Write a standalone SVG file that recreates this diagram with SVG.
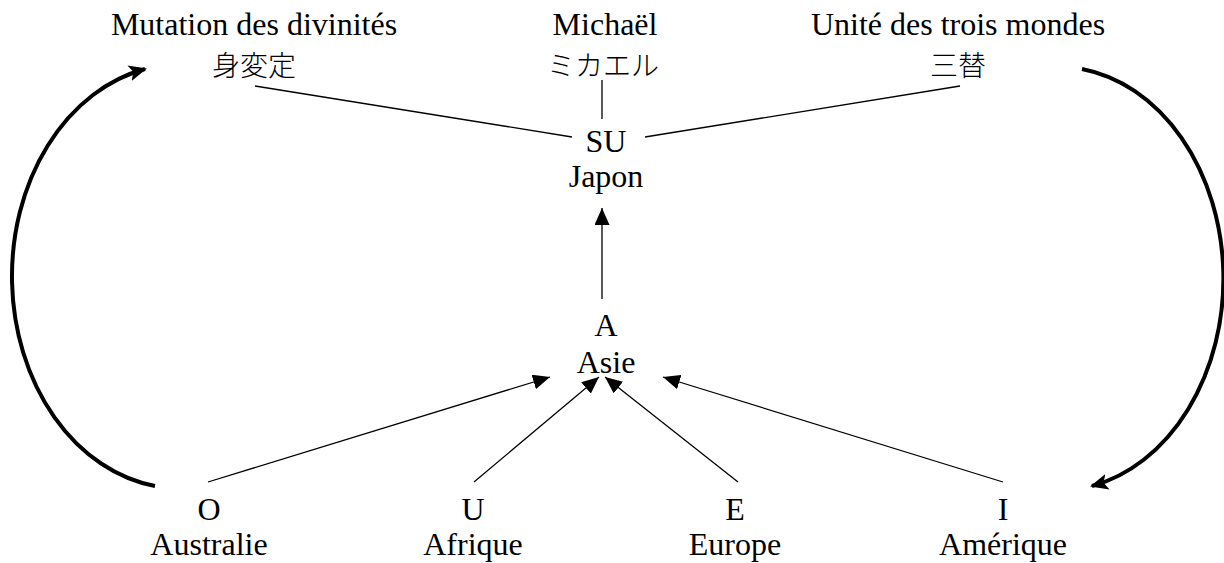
<svg xmlns="http://www.w3.org/2000/svg" width="1224" height="563" viewBox="0 0 1224 563">
<style>
text{font-family:"Liberation Serif","Times New Roman",serif;font-size:32px;fill:#000;text-anchor:middle}
text.cjk{font-family:"Noto Sans CJK JP","Noto Sans CJK SC",sans-serif;font-size:28px;font-weight:300}
.thin{stroke:#000;stroke-width:1.3;fill:none}
.thick{stroke:#000;stroke-width:4;fill:none}
</style>
<defs>
<marker id="ah" markerUnits="userSpaceOnUse" markerWidth="17" markerHeight="15" refX="17" refY="7.5" orient="auto">
<path d="M0,0 L17,7.5 L0,15 Z" fill="#000"/>
</marker>
<marker id="ahb" markerUnits="userSpaceOnUse" markerWidth="18" markerHeight="16" refX="16" refY="8" orient="auto">
<path d="M0,0 L18,8 L0,16 L4,8 Z" fill="#000"/>
</marker>
</defs>
<g id="connectors">
<line class="thin" x1="255" y1="86" x2="572" y2="137"/>
<line class="thin" x1="602" y1="80" x2="602" y2="119"/>
<line class="thin" x1="645" y1="137" x2="960" y2="86"/>
<line class="thin" x1="602" y1="299" x2="602" y2="208" marker-end="url(#ah)"/>
<line class="thin" x1="208" y1="482" x2="550" y2="377" marker-end="url(#ah)"/>
<line class="thin" x1="474" y1="482" x2="599" y2="377" marker-end="url(#ah)"/>
<line class="thin" x1="738" y1="482" x2="605" y2="377" marker-end="url(#ah)"/>
<line class="thin" x1="1003" y1="482" x2="663" y2="377" marker-end="url(#ah)"/>
<path class="thick" d="M155,486 A168 212 0 0 1 145,69" marker-end="url(#ahb)"/>
<path class="thick" d="M1082,69 A166 212 0 0 1 1092,486" marker-end="url(#ahb)"/>
</g>
<g id="node-mutation"><text x="254" y="35">Mutation des divinités</text><text class="cjk" x="254" y="76">身変定</text></g>
<g id="node-michael"><text x="605" y="35">Michaël</text><text class="cjk" x="603" y="76">ミカエル</text></g>
<g id="node-unite"><text x="958" y="35">Unité des trois mondes</text><text class="cjk" x="958" y="76">三替</text></g>
<g id="node-su"><text x="606" y="152">SU</text><text x="606" y="187">Japon</text></g>
<g id="node-a"><text x="606" y="336">A</text><text x="606" y="373">Asie</text></g>
<g id="node-o"><text x="209" y="520">O</text><text x="209" y="555">Australie</text></g>
<g id="node-u"><text x="473" y="520">U</text><text x="473" y="555">Afrique</text></g>
<g id="node-e"><text x="735" y="520">E</text><text x="735" y="555">Europe</text></g>
<g id="node-i"><text x="1003" y="520">I</text><text x="1003" y="555">Amérique</text></g>
</svg>
